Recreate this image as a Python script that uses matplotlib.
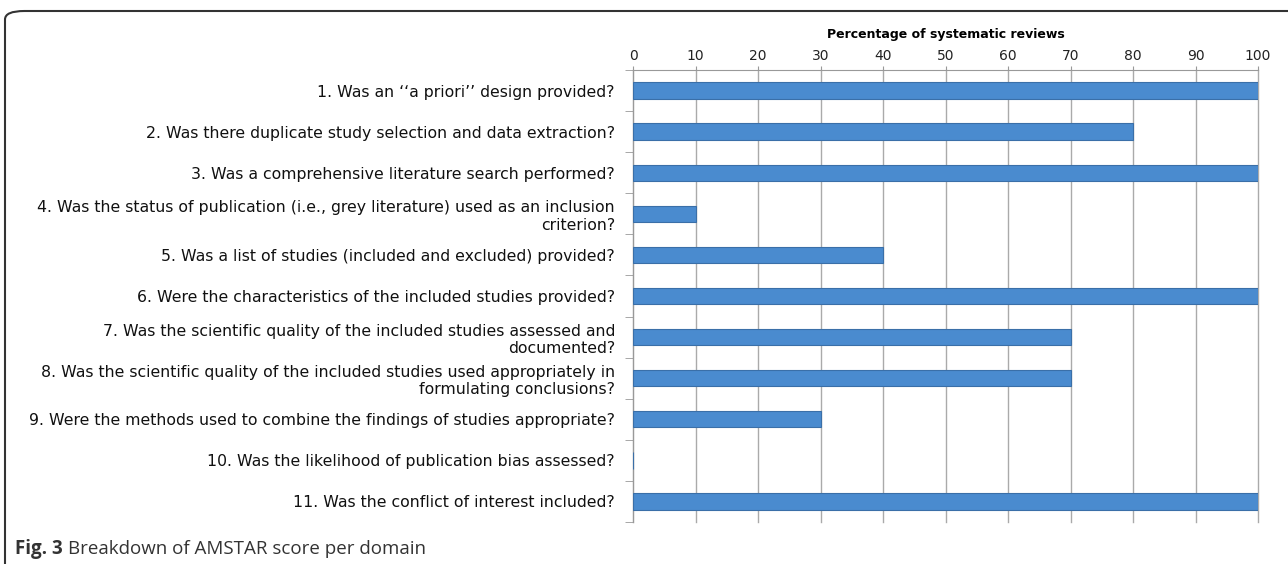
import matplotlib
matplotlib.use("Agg")
import matplotlib.pyplot as plt
from matplotlib.patches import FancyBboxPatch
import numpy as np

questions = [
    "1. Was an \u2018\u2018a priori\u2019\u2019 design provided?",
    "2. Was there duplicate study selection and data extraction?",
    "3. Was a comprehensive literature search performed?",
    "4. Was the status of publication (i.e., grey literature) used as an inclusion\ncriterion?",
    "5. Was a list of studies (included and excluded) provided?",
    "6. Were the characteristics of the included studies provided?",
    "7. Was the scientific quality of the included studies assessed and\ndocumented?",
    "8. Was the scientific quality of the included studies used appropriately in\nformulating conclusions?",
    "9. Were the methods used to combine the findings of studies appropriate?",
    "10. Was the likelihood of publication bias assessed?",
    "11. Was the conflict of interest included?",
]
percentages = [100, 80, 100, 10, 40, 100, 70, 70, 30, 0, 100]
x_ticks = [0, 10, 20, 30, 40, 50, 60, 70, 80, 90, 100]

W, H = 1288, 564
fig = plt.figure(figsize=(W / 100, H / 100), dpi=100)

# rounded frame around the figure panel
frame = FancyBboxPatch((5 / W, -0.2), 1.2, 1 - 11 / H + 0.2,
                       boxstyle="round,pad=0,rounding_size=0.015",
                       transform=fig.transFigure, fill=False,
                       edgecolor="#333333", linewidth=1.5)
fig.patches.append(frame)

left, right = 633 / W, 1258 / W
top, bottom = 1 - 70 / H, 1 - 522 / H
ax = fig.add_axes([left, bottom, right - left, top - bottom])

y = np.arange(len(questions))
ax.barh(y, percentages, height=0.4, color="#4a8bcf", edgecolor="#3a6fa8",
        linewidth=0.8, zorder=3)
ax.set_ylim(len(questions) - 0.5, -0.5)
ax.set_xlim(0, 100)

ax.set_xticks(x_ticks)
ax.xaxis.tick_top()
ax.xaxis.set_label_position("top")
ax.tick_params(axis="x", length=3, color="#999999", labelsize=10,
               labelcolor="#222222", pad=2)
ax.set_xlabel("Percentage of systematic reviews", fontsize=9, fontweight="bold",
              labelpad=8)
ax.grid(axis="x", color="#aaaaaa", linewidth=1, zorder=0)
for gl in ax.get_xgridlines():
    gl.set_clip_on(False)

ax.set_yticks(y)
ax.set_yticklabels(questions, fontsize=11.3, color="#111111",
                   linespacing=1.2)
ax.tick_params(axis="y", length=0, pad=13)
ax.set_yticks(np.arange(-0.5, len(questions)), minor=True)
ax.tick_params(axis="y", which="minor", length=6, color="#999999")

for side in ("right", "bottom"):
    ax.spines[side].set_visible(False)
for side in ("left", "top"):
    ax.spines[side].set_color("#999999")

fig.canvas.draw()
cap_bold = fig.text(15 / W, 1 - 549 / H, "Fig. 3", fontsize=13.5,
                    fontweight="bold", color="#333333", va="center",
                    family=["Open Sans", "DejaVu Sans"])
bb = cap_bold.get_window_extent(renderer=fig.canvas.get_renderer())
fig.text((bb.x1 + 5) / W, 1 - 549 / H, "Breakdown of AMSTAR score per domain",
         fontsize=13.5, color="#333333", va="center",
         family=["Open Sans", "DejaVu Sans"])

fig.savefig("out.png", dpi=100)
